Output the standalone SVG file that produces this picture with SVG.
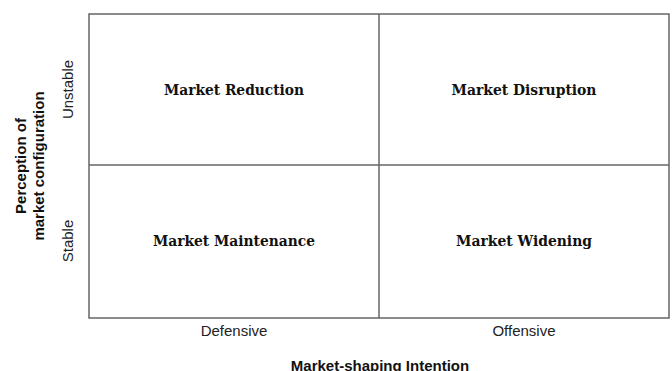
<svg xmlns="http://www.w3.org/2000/svg" width="672" height="371" viewBox="0 0 672 371">
<style>
.q{font-family:"DejaVu Serif","Liberation Serif",serif;font-weight:bold;font-size:14px;fill:#111;text-anchor:middle}
.ax{font-family:"Liberation Sans",Arial,sans-serif;font-size:15px;fill:#222;text-anchor:middle}
.ti{font-family:"Liberation Sans",Arial,sans-serif;font-size:15px;font-weight:bold;fill:#111;text-anchor:middle}
.ln{stroke:#666;stroke-width:1.5;fill:none}
</style>
<rect width="672" height="371" fill="#fff"/>
<g id="grid">
<rect class="ln" x="89" y="14" width="580" height="304"/>
<line class="ln" x1="379" y1="14" x2="379" y2="318"/>
<line class="ln" x1="89" y1="165" x2="669" y2="165"/>
</g>
<g id="reduction"><text class="q" x="234" y="95" textLength="140" lengthAdjust="spacingAndGlyphs">Market Reduction</text></g>
<g id="disruption"><text class="q" x="524" y="95" textLength="145" lengthAdjust="spacingAndGlyphs">Market Disruption</text></g>
<g id="maintenance"><text class="q" x="234" y="246" textLength="162" lengthAdjust="spacingAndGlyphs">Market Maintenance</text></g>
<g id="widening"><text class="q" x="524" y="246" textLength="136" lengthAdjust="spacingAndGlyphs">Market Widening</text></g>
<g id="connectors"></g>
<g id="axes">
<text class="ax" x="234" y="336">Defensive</text>
<text class="ax" x="524" y="336">Offensive</text>
<text class="ti" x="380" y="371">Market-shaping Intention</text>
<text class="ax" transform="translate(73 89.5) rotate(-90)">Unstable</text>
<text class="ax" transform="translate(73 241) rotate(-90)">Stable</text>
<text class="ti" transform="translate(26 166) rotate(-90)">Perception of</text>
<text class="ti" transform="translate(44 166) rotate(-90)">market configuration</text>
</g>
</svg>
